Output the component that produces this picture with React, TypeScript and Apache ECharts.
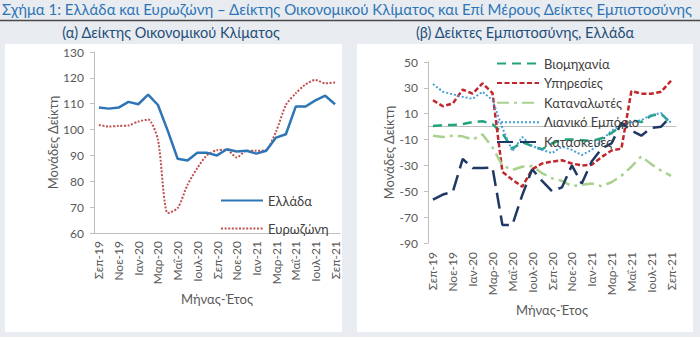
import { useEffect, useRef } from "react";
import * as echarts from "echarts";

const months = [
  "Σεπ-19", "Οκτ-19", "Νοε-19", "Δεκ-19", "Ιαν-20", "Φεβ-20", "Μαρ-20", "Απρ-20",
  "Μαΐ-20", "Ιουν-20", "Ιουλ-20", "Αυγ-20", "Σεπ-20", "Οκτ-20", "Νοε-20", "Δεκ-20",
  "Ιαν-21", "Φεβ-21", "Μαρ-21", "Απρ-21", "Μαΐ-21", "Ιουν-21", "Ιουλ-21", "Αυγ-21", "Σεπ-21",
];

const greece = [108.5, 108.1, 108.5, 110.7, 109.8, 113.5, 109.5, 99.5, 88.7, 88.0, 91.0, 91.0, 90.0,
  92.4, 91.5, 91.8, 90.7, 91.8, 96.9, 98.2, 108.9, 108.9, 111.3, 113.1, 109.8];
const eurozone = [101.8, 101.2, 101.4, 101.6, 103.1, 103.9, 96.0, 67.7, 69.6, 78.6, 85.1, 90.2, 92.0,
  92.2, 89.2, 91.8, 91.8, 92.2, 99.2, 109.5, 114.0, 117.5, 119.2, 117.9, 118.2];

const industry = [0.5, 1.2, 1.2, 2, 3.5, 4.2, 2, -5, -17, -12, -15, -17.5, -13, -10, -10, -10.5, -11,
  -9, -5, 0.5, 5, 3.5, 8.5, 10, 2.5];
const services = [20.4, 15.8, 17.9, 28.7, 25.6, 33.5, 26, -35, -41, -46.5, -33, -28.5, -27, -26, -28.5,
  -30, -29.5, -23.5, -18.5, -17, 27.5, 25.5, 25.5, 27, 35.5];
const consumers = [-7, -8, -7, -7.5, -10, -6, -16, -30, -33.5, -31, -30.5, -36, -40, -42, -46, -45, -44,
  -46, -43, -38, -31, -23, -29, -34, -38];
const retail = [33, 27, 25, 23, 21.5, 27, 20.5, -1, -19, -8, -15, -18, -20.5, -15.5, -18, -22, -18, -11,
  -3, 1, 3.5, 5, 9, 10.5, 3];
const construction = [-56.5, -52.5, -50.5, -25, -32, -32, -31.5, -76, -76, -53, -33, -42, -50, -47, -30,
  -44, -27, -17, -13, 3, -3, -7, -1, 0, 8];

const titleText = "Σχήμα 1: Ελλάδα και Ευρωζώνη – Δείκτης Οικονομικού Κλίματος και Επί Μέρους Δείκτες Εμπιστοσύνης";
const subA = "(α) Δείκτης Οικονομικού Κλίματος";
const subB = "(β) Δείκτες Εμπιστοσύνης, Ελλάδα";
const yName = "Μονάδες Δείκτη";
const xName = "Μήνας-Έτος";

const FONT = "Lato, 'Noto Sans', sans-serif";
const AX = "#bfbfbf";
const TXT = "#595959";

export default function App() {
  const ref = useRef<HTMLDivElement>(null);
  useEffect(() => {
    const chart = echarts.init(ref.current!, null, { renderer: "svg" });
    const axisLabel = { color: TXT, fontSize: 12, fontFamily: FONT };
    const legendBase = {
      orient: "vertical",
      itemWidth: 42,
      itemHeight: 12,
      itemStyle: { opacity: 0, borderWidth: 0 },
      textStyle: { color: "#404040", fontSize: 13, fontFamily: FONT },
    };
    const option: any = {
      animation: false,
      backgroundColor: "#e8ecf0",
      textStyle: { fontFamily: FONT },
      graphic: [
        { type: "rect", z: -10, shape: { x: 5, y: 44, width: 337, height: 288 }, style: { fill: "#ffffff" } },
        { type: "rect", z: -10, shape: { x: 357, y: 44, width: 336, height: 288 }, style: { fill: "#ffffff" } },
        { type: "line", shape: { x1: 0, y1: 20.5, x2: 700, y2: 20.5 }, style: { stroke: "#4a4a4a", lineWidth: 1.3 } },
        { type: "text", x: 2, y: 8.5, style: { text: titleText, fill: "#2e74b5", fontSize: 15, fontFamily: FONT, verticalAlign: "middle" } },
        { type: "text", x: 171, y: 32, style: { text: subA, fill: "#1f4e79", fontSize: 14.5, fontFamily: FONT, align: "center", verticalAlign: "middle" } },
        { type: "text", x: 525, y: 32, style: { text: subB, fill: "#1f4e79", fontSize: 14.5, fontFamily: FONT, align: "center", verticalAlign: "middle" } },
      ],
      legend: [
        {
          ...legendBase,
          data: ["Ελλάδα", "Ευρωζώνη"],
          left: 215,
          top: 189,
          itemGap: 15,
        },
        {
          ...legendBase,
          data: ["Βιομηχανία", "Υπηρεσίες", "Καταναλωτές", "Λιανικό Εμπόριο", "Κατασκευές"],
          left: 491,
          top: 52,
          itemGap: 6.6,
        },
      ],
      grid: [
        { left: 94, right: 360, top: 52, bottom: 104 },
        { left: 428, right: 24, top: 62, bottom: 94 },
      ],
      xAxis: [
        {
          gridIndex: 0,
          type: "category",
          data: months,
          boundaryGap: true,
          axisLine: { lineStyle: { color: AX } },
          axisTick: { interval: 1, length: 5, lineStyle: { color: AX } },
          axisLabel: { ...axisLabel, interval: 1, rotate: 90, margin: 8 },
          name: xName,
          nameLocation: "middle",
          nameGap: 58,
          nameTextStyle: { color: TXT, fontSize: 13, fontFamily: FONT },
        },
        {
          gridIndex: 1,
          type: "category",
          data: months,
          boundaryGap: true,
          position: "bottom",
          axisLine: { show: false, onZero: false },
          axisTick: { show: false },
          axisLabel: { ...axisLabel, interval: 1, rotate: 90, margin: 9 },
          name: xName,
          nameLocation: "middle",
          nameGap: 56,
          nameTextStyle: { color: TXT, fontSize: 13, fontFamily: FONT },
        },
        {
          gridIndex: 1,
          type: "category",
          data: months,
          boundaryGap: true,
          position: "top",
          axisLine: { show: true, onZero: true, lineStyle: { color: AX } },
          axisTick: { interval: 1, length: 5, inside: true, lineStyle: { color: AX } },
          axisLabel: { show: false },
        },
      ],
      yAxis: [
        {
          gridIndex: 0,
          type: "value",
          min: 60,
          max: 130,
          interval: 10,
          splitLine: { show: false },
          axisLine: { show: true, lineStyle: { color: AX } },
          axisTick: { show: true, length: 4, lineStyle: { color: AX } },
          axisLabel: { ...axisLabel, margin: 10 },
          name: yName,
          nameLocation: "middle",
          nameRotate: 90,
          nameGap: 34,
          nameTextStyle: { color: TXT, fontSize: 13, fontFamily: FONT },
        },
        {
          gridIndex: 1,
          type: "value",
          min: -90,
          max: 50,
          interval: 20,
          splitLine: { show: false },
          axisLine: { show: true, lineStyle: { color: AX } },
          axisTick: { show: true, length: 4, lineStyle: { color: AX } },
          axisLabel: { ...axisLabel, margin: 10 },
          name: yName,
          nameLocation: "middle",
          nameRotate: 90,
          nameGap: 33,
          nameTextStyle: { color: TXT, fontSize: 13, fontFamily: FONT },
        },
      ],
      series: [
        {
          name: "Ελλάδα", type: "line", xAxisIndex: 0, yAxisIndex: 0, data: greece, symbol: "none",
          lineStyle: { color: "#2e75b6", width: 2.5 }, itemStyle: { color: "#2e75b6" }, z: 3,
        },
        {
          name: "Ευρωζώνη", type: "line", xAxisIndex: 0, yAxisIndex: 0, data: eurozone, symbol: "none", smooth: 0.25,
          lineStyle: { color: "#c0504d", width: 2, type: [2, 1.6] }, itemStyle: { color: "#c0504d" }, z: 2,
        },
        {
          name: "Βιομηχανία", type: "line", xAxisIndex: 1, yAxisIndex: 1, data: industry, symbol: "none",
          lineStyle: { color: "#22a37b", width: 2.5, type: [9, 6] }, itemStyle: { color: "#22a37b" },
        },
        {
          name: "Υπηρεσίες", type: "line", xAxisIndex: 1, yAxisIndex: 1, data: services, symbol: "none",
          lineStyle: { color: "#c0262c", width: 2.5, type: [5, 2.5] }, itemStyle: { color: "#c0262c" },
        },
        {
          name: "Καταναλωτές", type: "line", xAxisIndex: 1, yAxisIndex: 1, data: consumers, symbol: "none",
          lineStyle: { color: "#a9d18e", width: 2.5, type: [12, 5, 3, 5] }, itemStyle: { color: "#a9d18e" },
        },
        {
          name: "Λιανικό Εμπόριο", type: "line", xAxisIndex: 1, yAxisIndex: 1, data: retail, symbol: "none",
          lineStyle: { color: "#4a9fd8", width: 2, type: [2, 2] }, itemStyle: { color: "#4a9fd8" },
        },
        {
          name: "Κατασκευές", type: "line", xAxisIndex: 1, yAxisIndex: 1, data: construction, symbol: "none",
          lineStyle: { color: "#1f3864", width: 2.5, type: [16, 7] }, itemStyle: { color: "#1f3864" },
        },
      ],
    };
    chart.setOption(option);
    return () => chart.dispose();
  }, []);
  return (
    <div
      ref={ref}
      style={{ position: "fixed", left: 0, top: 0, width: 700, height: 337 }}
    />
  );
}
